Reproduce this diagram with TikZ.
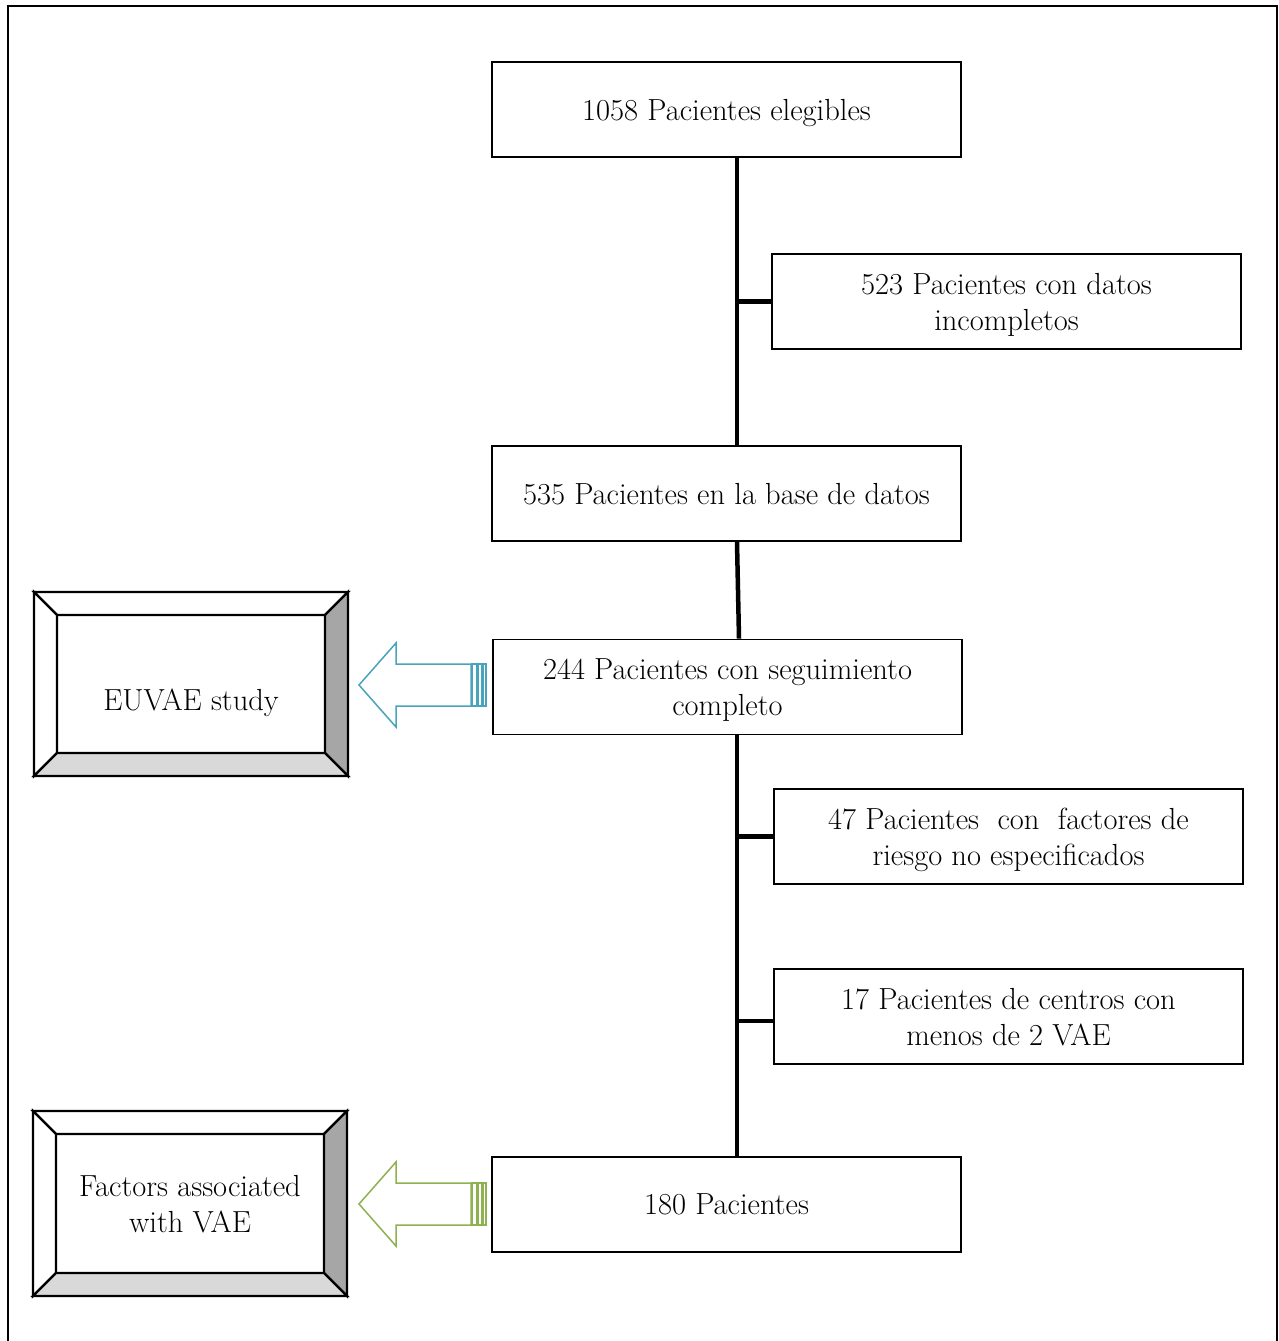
\documentclass[tikz,border=0pt]{standalone}
\usepackage{fontspec}
\usetikzlibrary{calc}
\definecolor{arrowteal}{HTML}{4AA3BD}
\definecolor{arrowgreen}{HTML}{8FB250}
\definecolor{bevelright}{HTML}{A6A6A6}
\definecolor{bevelbottom}{HTML}{D9D9D9}

% Raised panel with bevelled edges: x1, y1, x2, y2, bevel depth
\newcommand\bevelpanel[5]{%
  \filldraw[bevel, fill=white] (#1,#2) -- (#3,#2) -- (#3-#5,#2+#5) -- (#1+#5,#2+#5) -- cycle;
  \filldraw[bevel, fill=white] (#1,#2) -- (#1+#5,#2+#5) -- (#1+#5,#4-#5) -- (#1,#4) -- cycle;
  \filldraw[bevel, fill=bevelright] (#3,#2) -- (#3,#4) -- (#3-#5,#4-#5) -- (#3-#5,#2+#5) -- cycle;
  \filldraw[bevel, fill=bevelbottom] (#1,#4) -- (#3,#4) -- (#3-#5,#4-#5) -- (#1+#5,#4-#5) -- cycle;
  \draw[bevel] (#1,#2) rectangle (#3,#4);
}

% Striped block arrow pointing left: colour, tip x, centre y
\newcommand\stripedarrow[3]{%
  \draw[blockarrow, draw=#1] (#2,#3) -- (#2+37,#3-42) -- (#2+37,#3-21) -- (#2+112,#3-21)
     -- (#2+112,#3+21) -- (#2+37,#3+21) -- (#2+37,#3+42) -- cycle;
  \draw[blockarrow, draw=#1] (#2+113,#3-21) rectangle (#2+118,#3+21);
  \draw[blockarrow, draw=#1] (#2+119,#3-21) rectangle (#2+123,#3+21);
  \draw[blockarrow, draw=#1] (#2+124,#3-21) rectangle (#2+127,#3+21);
}

\tikzset{
  x=1pt, y=-1pt,
  every node/.style={font=\fontsize{30.5}{36}\selectfont},
  flowbox/.style={draw, line width=1.8pt, minimum width=469pt, minimum height=95pt,
    align=center, inner sep=0pt, text depth=0pt, fill=white},
  spine/.style={line width=4.5pt},
  bevel/.style={draw=black, line width=2.2pt, line join=miter},
  blockarrow/.style={line width=1.5pt, line join=miter},
  panel/.style={align=center, inner sep=0pt},
}

\begin{document}
\begin{tikzpicture}
\useasboundingbox (0,0) rectangle (1279,1341);
\fill[white] (0,0) rectangle (1279,1341);

% outer frame (open at the bottom)
\draw[line width=2.5pt] (8,1341) -- (8,6) -- (1277,6) -- (1277,1341);

% flow boxes
\node[flowbox] (elig) at (726.5,109.5) {1058 Pacientes elegibles};
\node[flowbox] (incomp) at (1006.5,301.5) {523 Pacientes con datos\\incompletos};
\node[flowbox] (base) at (726.5,493.5) {535 Pacientes en la base de datos};
\node[flowbox] (segui) at (727.5,687) {244 Pacientes con seguimiento\\completo};
\node[flowbox] (riesgo) at (1008.5,836.5) {47 Pacientes\ \ con\ \ factores de\\riesgo no especificados};
\node[flowbox] (centros) at (1008.5,1016.5) {17 Pacientes de centros con\\menos de 2 VAE};
\node[flowbox] (final) at (726.5,1204.5) {180 Pacientes};

% main spine and side branches
\coordinate (sp) at (737,0);
\draw[spine] (elig.south -| sp) -- (base.north -| sp);
\draw[spine] (incomp.west) -- (incomp.west -| sp);
\draw[spine] (base.south -| sp) -- ($(segui.north -| sp)+(2,0)$);
\draw[spine] (segui.south -| sp) -- (final.north -| sp);
\draw[spine] (riesgo.west) -- (riesgo.west -| sp);
\draw[spine] ($(centros.west)+(0,4.5)$) -- ($(centros.west -| sp)+(0,4.5)$);

% study panels
\bevelpanel{34}{592}{348}{776}{23}
\node[panel] (euvae) at (191,703) {EUVAE study};
\bevelpanel{33}{1111}{347}{1296}{23}
\node[panel] (factors) at (190,1204) {Factors associated\\with VAE};

% block arrows towards the panels
\stripedarrow{arrowteal}{359}{685}
\stripedarrow{arrowgreen}{359}{1204}
\end{tikzpicture}
\end{document}
